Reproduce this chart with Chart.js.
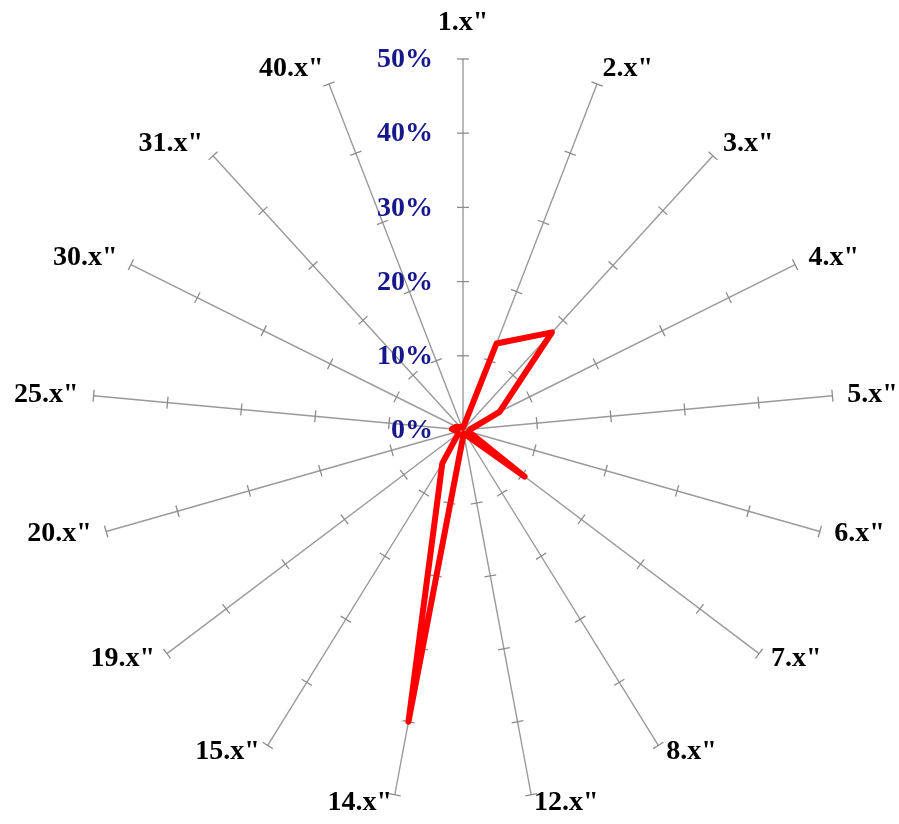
<!DOCTYPE html>
<html lang="en">
<head>
    <meta charset="UTF-8">
    <title>Radar</title>
    <script src="https://cdn.jsdelivr.net/npm/chart.js"></script>
    <style>
        html, body {
            margin: 0;
            padding: 0;
            background: #fff;
        }
        .chart-container {
            width: 899px;
            height: 824px;
        }
    </style>
</head>
<body>
    <div class="chart-container">
        <canvas id="radarChart"></canvas>
    </div>
    <script>
        const labels = ['1.x"', '2.x"', '3.x"', '4.x"', '5.x"', '6.x"', '7.x"', '8.x"', '12.x"',
                        '14.x"', '15.x"', '19.x"', '20.x"', '25.x"', '30.x"', '31.x"', '40.x"'];
        const shares = [0.3, 12.5, 17.8, 5.5, 1, 0.8, 10.4, 0.8, 0.5,
                        40, 5.3, 0.8, 0.8, 1.5, 1, 0.5, 0.5];
        const tickValues = [0, 10, 20, 30, 40, 50];

        const serif = '"Liberation Serif", "Times New Roman", serif';

        // spoke ticks, tick labels and spoke labels
        const spokeDecor = {
            id: 'spokeDecor',
            beforeDatasetsDraw(chart) {
                const scale = chart.scales.r;
                const ctx = chart.ctx;
                const n = chart.data.labels.length;
                ctx.save();

                // small perpendicular ticks on every spoke
                ctx.strokeStyle = '#8c8c8c';
                ctx.lineWidth = 1.3;
                for (let i = 0; i < n; i++) {
                    tickValues.forEach(v => {
                        if (v === 0) return;
                        const p = scale.getPointPosition(i, scale.getDistanceFromCenterForValue(v));
                        const nx = -Math.sin(p.angle) * 6;
                        const ny = Math.cos(p.angle) * 6;
                        ctx.beginPath();
                        ctx.moveTo(p.x - nx, p.y - ny);
                        ctx.lineTo(p.x + nx, p.y + ny);
                        ctx.stroke();
                    });
                }

                // percentage labels left of the top spoke
                ctx.fillStyle = '#17178c';
                ctx.font = 'bold 28px ' + serif;
                ctx.textAlign = 'right';
                ctx.textBaseline = 'middle';
                tickValues.forEach(v => {
                    const y = scale.yCenter - scale.getDistanceFromCenterForValue(v);
                    ctx.fillText(v + '%', scale.xCenter - 30, y + 1);
                });

                // spoke labels, anchored just outside each spoke end
                ctx.fillStyle = '#000';
                ctx.font = 'bold 28px ' + serif;
                ctx.textBaseline = 'middle';
                chart.data.labels.forEach((label, i) => {
                    const a = (i / n) * Math.PI * 2;
                    const s = Math.sin(a), c = Math.cos(a);
                    const p = scale.getPointPosition(i, scale.drawingArea);
                    let x = p.x + 15 * s;
                    let y = p.y - (c > 0 ? 16 * c : 8 * c);
                    if (i === 0) y = p.y - 36;
                    ctx.textAlign = Math.abs(s) < 0.05 ? 'center' : (s > 0 ? 'left' : 'right');
                    ctx.fillText(label, x, y);
                });
                ctx.restore();
            }
        };

        const ctx = document.getElementById('radarChart').getContext('2d');
        new Chart(ctx, {
            type: 'radar',
            data: {
                labels: labels,
                datasets: [{
                    data: shares,
                    borderColor: '#ff0000',
                    borderWidth: 6,
                    borderJoinStyle: 'round',
                    borderCapStyle: 'round',
                    fill: false,
                    pointRadius: 0,
                    pointHoverRadius: 0
                }]
            },
            options: {
                responsive: true,
                maintainAspectRatio: false,
                animation: false,
                layout: {
                    padding: { left: 78, right: 51, top: 59, bottom: 23 }
                },
                scales: {
                    r: {
                        min: 0,
                        max: 50,
                        grid: { display: false },
                        angleLines: { color: '#9a9a9a', lineWidth: 1.4 },
                        ticks: { display: false, stepSize: 10 },
                        pointLabels: { display: false }
                    }
                },
                plugins: {
                    legend: { display: false },
                    tooltip: { enabled: false }
                }
            },
            plugins: [spokeDecor]
        });
    </script>
</body>
</html>
